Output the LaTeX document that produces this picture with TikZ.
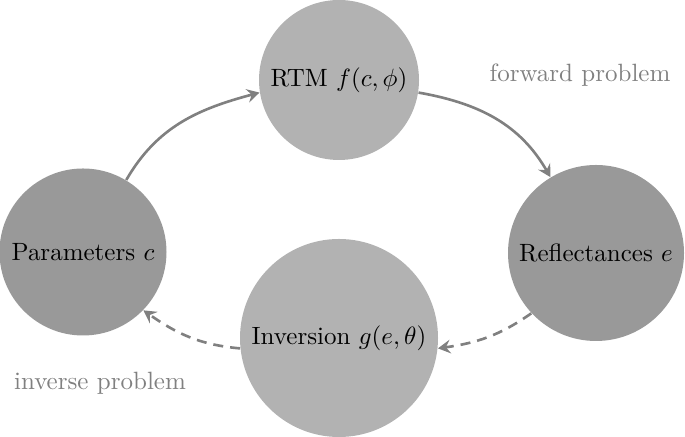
\documentclass[tikz,border=0pt]{standalone}
\usetikzlibrary{arrows.meta}
\definecolor{lightc}{gray}{0.7}
\definecolor{darkc}{gray}{0.6}
\definecolor{arrowc}{gray}{0.5}
\begin{document}
\begin{tikzpicture}[x=0.4pt,y=0.4pt,
  lightnode/.style={circle,fill=lightc,inner sep=0pt},
  darknode/.style={circle,fill=darkc,inner sep=0pt},
  flow/.style={draw=arrowc,line width=1.05pt,-{Stealth[length=5pt,width=5.5pt,inset=1.8pt]}},
  backflow/.style={flow,dash pattern=on 4pt off 2.8pt},
  lbl/.style={text=arrowc,inner sep=0pt}]
\useasboundingbox (0,0) rectangle (685,437);
\node[lightnode,minimum size=64pt] (rtm) at (339,357) {RTM $f(c,\phi)$};
\node[darknode,minimum size=66.8pt] (par) at (83,185) {Parameters $c$};
\node[darknode,minimum size=70.4pt] (ref) at (596,184) {Reflectances $e$};
\node[lightnode,minimum size=79.2pt] (inv) at (339,99) {Inversion $g(e,\theta)$};
\node[lbl] (fwd) at (580,362) {forward problem};
\node[lbl] (invp) at (100,54) {inverse problem};
\draw[flow] (par.59) to[out=60,in=195] (rtm.189);
\draw[flow] (rtm.-9) to[out=-10,in=120] (ref.121);
\draw[backflow] (ref.223) to[out=215,in=8] (inv.-6);
\draw[backflow] (inv.186) to[out=175,in=-35] (par.-44);
\end{tikzpicture}
\end{document}
